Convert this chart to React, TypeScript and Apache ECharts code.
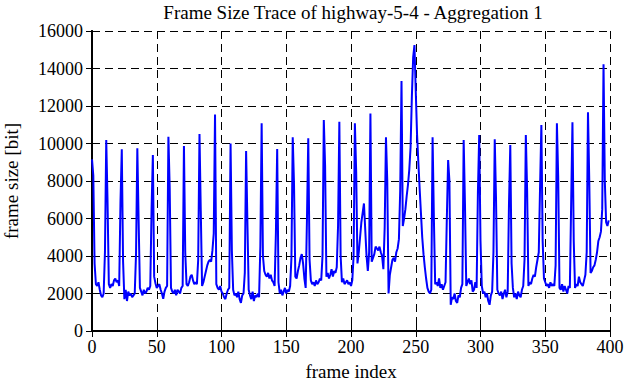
import React, { useEffect, useRef } from "react";
import * as echarts from "echarts";

const titleText = "Frame Size Trace of highway-5-4 - Aggregation 1";
const xLabel = "frame index";
const yLabel = "frame size [bit]";

const xTicks = [0, 50, 100, 150, 200, 250, 300, 350, 400];
const yTicks = [0, 2000, 4000, 6000, 8000, 10000, 12000, 14000, 16000];

const frameSizes: number[] = [
  9150, 8300, 3600, 2500, 2400, 2600, 2200, 1900, 1800, 2000,
  4200, 10190, 6900, 2500, 2300, 2500, 2400, 2700, 2800, 2600,
  2700, 2400, 6900, 9690, 3700, 1700, 2200, 1600, 2100, 1900,
  2000, 1800, 1900, 2000, 4100, 9740, 5900, 2300, 2100, 1900,
  2200, 2000, 2100, 2300, 2200, 2400, 6500, 9390, 2900, 2550,
  2300, 2400, 2500, 2200, 2000, 1720, 2100, 2300, 2400, 10360,
  7600, 2300, 2100, 2000, 2200, 1900, 2200, 2100, 2000, 2300,
  2400, 9870, 4200, 2500, 2400, 2600, 2900, 3000, 2700, 2500,
  2600, 2500, 3800, 10510, 6400, 2400, 2600, 2900, 3200, 3500,
  3700, 3800, 3700, 4300, 5200, 11550, 2500, 2300, 2200, 2400,
  2100, 2000, 1800, 1700, 2000, 2200, 2300, 10000, 4300, 2200,
  1900, 2000, 1800, 2100, 1700, 1500, 1900, 2000, 3100, 9600,
  5800, 2200, 1900, 1700, 2100, 1600, 1900, 1800, 2000, 1800,
  4500, 11075, 4000, 3200, 3000, 2900, 3100, 2800, 3000, 2700,
  2600, 2400, 5200, 9710, 2600, 2000, 2200, 1900, 2100, 2300,
  2000, 2200, 2100, 2400, 3900, 10330, 7800, 2900, 2800, 3200,
  3500, 3900, 4100, 3600, 2800, 2300, 6000, 10275, 3800, 2700,
  2500, 2600, 2400, 2700, 2500, 2600, 2800, 2700, 4000, 11250,
  8800, 2900, 3100, 2800, 3000, 3300, 2900, 3200, 3100, 3400,
  5600, 11160, 4000, 2600, 2800, 2500, 2600, 2700, 2500, 2600,
  2400, 2700, 4000, 11075, 8500, 3600, 4200, 5000, 5800, 6300,
  6800, 5400, 4000, 3200, 4200, 11600, 3700, 3900, 4100, 4500,
  4400, 4300, 4500, 4200, 4000, 3300, 5500, 10330, 8000, 2000,
  3000, 3400, 3800, 3900, 3700, 4200, 4400, 4900, 7500, 13330,
  5600, 6000, 6500, 7200, 7800, 8600, 9800, 12500, 14600, 15250,
  12800, 10500, 9000, 7600, 6300, 5000, 4100, 3400, 2800, 2300,
  2100, 2000, 2200, 10330, 6000, 2500, 2600, 2400, 2800, 2300,
  2500, 2200, 2400, 2600, 6000, 9120, 8000, 1400, 1800, 1700,
  2000, 1600, 1500, 1900, 1800, 2300, 2500, 10190, 6800, 2400,
  2600, 2800, 2500, 2700, 2100, 2200, 2600, 2300, 7400, 10450,
  4800, 2400, 2000, 2100, 1800, 2000, 1600, 1400, 1900, 2100,
  4200, 10220, 7000, 2200, 2000, 1900, 2100, 1700, 2000, 2200,
  1800, 2100, 6800, 9920, 3600, 2300, 1800, 2000, 1700, 2100,
  1900, 1800, 2200, 2400, 3800, 10450, 7500, 2400, 2600, 2500,
  2800, 3000, 2900, 3400, 3800, 4200, 7700, 10990, 4800, 2800,
  2600, 2400, 2500, 2300, 2600, 2400, 2500, 2400, 3500, 11075,
  8200, 2300, 2200, 2500, 2100, 2400, 2200, 2000, 2400, 2300,
  6800, 11130, 4800, 2300, 2500, 2400, 2900, 2600, 2500, 2400,
  2700, 3000, 4200, 11660, 8000, 3100, 3200, 3400, 3500, 3800,
  4200, 4800, 5000, 5300, 6500, 14220, 8000, 5800, 5600, 5900,
];

const FONT = "Liberation Serif";

export default function App() {
  const ref = useRef<HTMLDivElement>(null);
  useEffect(() => {
    if (!ref.current) return;
    const chart = echarts.init(ref.current, undefined, { renderer: "svg" });
    const grid = { left: 92, right: 16, top: 31, bottom: 51 };
    const axisLine = { show: true, lineStyle: { color: "#000", width: 2 } };
    const tick = { show: true, inside: true, length: 6, lineStyle: { color: "#000", width: 1 } };
    const split = { show: true, lineStyle: { color: "#000", width: 1, type: [8, 5] as any } };
    const xMin = xTicks[0];
    const xMax = xTicks[xTicks.length - 1];
    const xStep = xTicks[1] - xTicks[0];
    const yMin = yTicks[0];
    const yMax = yTicks[yTicks.length - 1];
    const yStep = yTicks[1] - yTicks[0];
    const mkX = (position: string, main: boolean) => ({
      type: "value",
      min: xMin,
      max: xMax,
      interval: xStep,
      position,
      axisLine,
      axisTick: tick,
      splitLine: main ? split : { show: false },
      axisLabel: { show: false },
    });
    const mkY = (position: string, main: boolean) => ({
      type: "value",
      min: yMin,
      max: yMax,
      interval: yStep,
      position,
      axisLine,
      axisTick: tick,
      splitLine: main ? split : { show: false },
      axisLabel: { show: false },
    });
    chart.setOption({
      animation: false,
      backgroundColor: "#fff",
      grid,
      xAxis: [mkX("bottom", true), mkX("top", false)],
      yAxis: [mkY("left", true), mkY("right", false)],
      series: [
        {
          type: "line",
          xAxisIndex: 0,
          yAxisIndex: 0,
          showSymbol: false,
          symbol: "none",
          lineStyle: { color: "#0000ff", width: 2 },
          data: frameSizes.map((v, i) => [i, v]),
        },
      ],
    });
    const texts: any[] = [
      {
        type: "text",
        x: 353,
        y: 3,
        style: { text: titleText, fill: "#000", font: `19px ${FONT}`, textAlign: "center", textVerticalAlign: "top" },
      },
      {
        type: "text",
        x: 351,
        y: 362,
        style: { text: xLabel, fill: "#000", font: `19px ${FONT}`, textAlign: "center", textVerticalAlign: "top" },
      },
      {
        type: "text",
        x: 2,
        y: 181,
        rotation: Math.PI / 2,
        style: { text: yLabel, fill: "#000", font: `19px ${FONT}`, textAlign: "center", textVerticalAlign: "top" },
      },
    ];
    xTicks.forEach((t) => {
      const p = chart.convertToPixel({ xAxisIndex: 0, yAxisIndex: 0 }, [t, yMin]) as number[];
      texts.push({
        type: "text",
        x: p[0],
        y: p[1] + 7,
        style: { text: String(t), fill: "#000", font: `18px ${FONT}`, textAlign: "center", textVerticalAlign: "top" },
      });
    });
    yTicks.forEach((t) => {
      const p = chart.convertToPixel({ xAxisIndex: 0, yAxisIndex: 0 }, [xMin, t]) as number[];
      texts.push({
        type: "text",
        x: p[0] - 9,
        y: p[1],
        style: { text: String(t), fill: "#000", font: `18px ${FONT}`, textAlign: "right", textVerticalAlign: "middle" },
      });
    });
    chart.setOption({ graphic: texts });
    return () => chart.dispose();
  }, []);
  return (
    <div
      ref={ref}
      style={{ position: "fixed", left: 0, top: 0, width: 626, height: 382, background: "#fff" }}
    />
  );
}
